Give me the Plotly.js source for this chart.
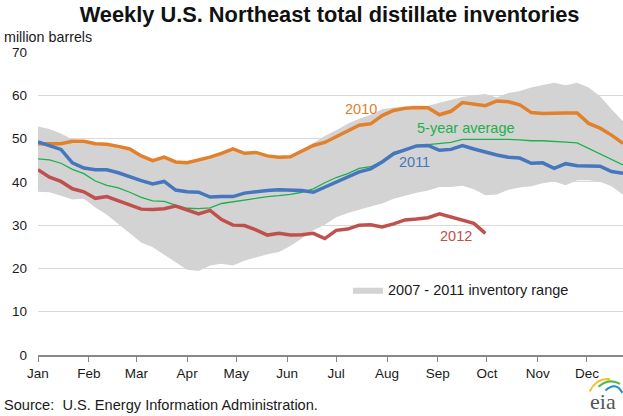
<!DOCTYPE html>
<html>
<head>
<meta charset="utf-8">
<script src="https://cdn.plot.ly/plotly-3.0.1.min.js"></script>
<style>html,body{margin:0;padding:0;background:#fff;}#chart{width:623px;height:416px;}</style>
</head>
<body>
<div id="chart"></div>
<script>
const weeks = ["2012-01-01","2012-01-08","2012-01-15","2012-01-22","2012-01-29","2012-02-05","2012-02-12","2012-02-19","2012-02-26",
"2012-03-04","2012-03-11","2012-03-18","2012-03-25","2012-04-01","2012-04-08","2012-04-15","2012-04-22","2012-04-29",
"2012-05-06","2012-05-13","2012-05-20","2012-05-27","2012-06-03","2012-06-10","2012-06-17","2012-06-24",
"2012-07-01","2012-07-08","2012-07-15","2012-07-22","2012-07-29","2012-08-05","2012-08-12","2012-08-19","2012-08-26",
"2012-09-02","2012-09-09","2012-09-16","2012-09-23","2012-09-30","2012-10-07","2012-10-14","2012-10-21","2012-10-28",
"2012-11-04","2012-11-11","2012-11-18","2012-11-25","2012-12-02","2012-12-09","2012-12-16","2012-12-23"];

const rangeLow = [37.7,37.6,36.8,35.9,36.1,34.1,32.4,30.2,28.0,26.0,24.9,23.1,21.3,19.7,19.4,20.7,21.1,20.7,21.8,22.6,23.3,23.8,25.2,26.9,28.8,30.1,
31.8,32.8,33.6,34.3,35.0,36.1,36.8,37.5,38.0,38.8,38.8,39.1,38.3,36.9,37.1,38.2,38.7,39.0,39.7,40.1,39.2,40.4,40.4,40.0,39.0,37.0];
const rangeHigh = [52.8,52.2,51.2,49.8,49.5,48.9,48.8,48.3,47.7,46.1,45.0,45.8,44.7,44.5,45.1,45.8,46.7,47.7,46.7,46.9,46.1,45.8,45.9,47.1,49.0,50.6,
51.9,53.4,54.6,55.5,56.8,57.2,57.3,57.4,57.6,58.3,59.0,59.6,60.0,60.3,59.5,60.5,61.0,61.8,62.4,62.9,62.3,62.9,61.8,59.8,56.8,54.0];
const y2010 = [48.8,48.8,48.8,49.4,49.4,48.8,48.7,48.2,47.6,46.0,44.9,45.7,44.6,44.4,45.0,45.7,46.6,47.6,46.6,46.8,46.0,45.7,45.8,47.0,48.4,49.1,
50.4,51.7,53.1,53.4,55.3,56.5,57.0,57.2,57.1,55.5,56.3,58.3,58.0,57.6,58.7,58.5,57.8,56.0,55.8,55.9,55.9,55.9,53.5,52.4,50.8,48.9];
const y2011 = [49.2,48.4,47.5,44.4,43.2,42.8,42.8,42.1,41.1,40.3,39.5,40.1,38.1,37.7,37.6,36.5,36.6,36.6,37.4,37.8,38.0,38.2,38.1,38.0,37.6,38.8,
39.8,41.2,42.3,43.0,44.6,46.5,47.4,48.3,48.4,47.3,47.5,48.4,47.6,46.8,46.2,45.7,45.5,44.3,44.4,43.1,44.2,43.7,43.6,43.6,42.4,42.0];
const y2012 = [42.8,41.1,40.1,38.4,37.7,36.2,36.6,35.6,34.5,33.7,33.6,33.8,34.4,33.5,32.6,33.4,31.3,30.0,29.9,28.9,27.7,28.1,27.7,27.8,28.1,26.9,
28.8,29.1,30.0,30.1,29.6,30.3,31.2,31.4,31.7,32.6,31.8,31.2,30.4,28.1];
const avg5 = [45.3,45.1,44.3,42.9,41.9,40.2,39.2,38.6,37.6,36.4,35.6,35.5,34.6,33.9,33.8,34.0,35.0,35.4,35.7,36.2,36.6,36.8,37.1,37.6,38.4,39.8,
41.0,41.9,43.1,43.5,44.8,46.8,47.5,48.2,48.6,48.8,49.1,49.8,49.8,49.9,49.8,49.8,49.7,49.5,49.5,49.4,49.2,49.0,47.7,46.4,45.1,43.9];

const C = {orange:'#E3802C', blue:'#4677BE', red:'#C0504D', green:'#1DB04B', band:'#D3D3D3', text:'#1a1a1a'};
const FONT = 'Liberation Sans, Arial, sans-serif';

const traces = [
  {x: weeks, y: rangeLow, type:'scatter', mode:'lines', line:{width:0, color:C.band}, showlegend:false, hoverinfo:'skip'},
  {x: weeks, y: rangeHigh, type:'scatter', mode:'lines', fill:'tonexty', fillcolor:C.band, line:{width:0, color:C.band},
   name:'2007 - 2011 inventory range', showlegend:true},
  {x: weeks, y: avg5, type:'scatter', mode:'lines', line:{width:1.3, color:C.green}, showlegend:false},
  {x: weeks, y: y2010, type:'scatter', mode:'lines', line:{width:3.5, color:C.orange}, showlegend:false},
  {x: weeks, y: y2011, type:'scatter', mode:'lines', line:{width:3.5, color:C.blue}, showlegend:false},
  {x: weeks.slice(0, y2012.length), y: y2012, type:'scatter', mode:'lines', line:{width:3.5, color:C.red}, showlegend:false}
];

const layout = {
  width:623, height:416,
  margin:{l:38, r:0, t:52, b:61},
  paper_bgcolor:'#fff', plot_bgcolor:'#fff',
  font:{family:FONT, size:13, color:C.text},
  title:{text:'<b>Weekly U.S. Northeast total distillate inventories</b>', font:{family:FONT, size:21.8, color:'#111'},
         x:0.529, xref:'container', xanchor:'center', y:0.966, yref:'container', yanchor:'middle'},
  xaxis:{type:'date', range:['2012-01-01','2012-12-23'], dtick:'M1', tick0:'2012-01-01', tickformat:'%b',
         ticks:'outside', ticklen:5, tickcolor:'#888', showline:true, linecolor:'#888', linewidth:1.5,
         showgrid:false, zeroline:false, tickfont:{size:13.5, color:C.text}, fixedrange:true},
  yaxis:{range:[0,70], dtick:10, tick0:0, showgrid:true, gridcolor:'#D9D9D9', gridwidth:1, zeroline:false,
         showline:false, ticks:'', ticklabelstandoff:10, tickfont:{size:13.5, color:C.text}, fixedrange:true},
  showlegend:true,
  legend:{x:0.53, y:0.215, xanchor:'left', yanchor:'middle', bgcolor:'rgba(0,0,0,0)', font:{size:14.5, color:C.text}, itemwidth:30},
  annotations:[
    {xref:'paper', yref:'paper', x:-0.062, y:1.0495, xanchor:'left', yanchor:'middle', text:'million barrels', showarrow:false, font:{size:14.3, color:C.text}},
    {xref:'paper', yref:'paper', x:-0.062, y:-0.165, xanchor:'left', yanchor:'middle', text:'Source:  U.S. Energy Information Administration.', showarrow:false, font:{size:14.6, color:C.text}},
    {x:'2012-07-16', y:56.9, text:'2010', showarrow:false, font:{size:14.5, color:C.orange}},
    {x:'2012-09-18', y:52.5, text:'5-year average', showarrow:false, font:{size:14.5, color:C.green}},
    {x:'2012-08-18', y:44.5, text:'2011', showarrow:false, font:{size:14.5, color:C.blue}},
    {x:'2012-09-12', y:27.4, text:'2012', showarrow:false, font:{size:14.5, color:C.red}},
    {xref:'paper', yref:'paper', x:0.966, y:-0.155, xanchor:'center', yanchor:'middle', text:'eia', showarrow:false,
     font:{family:'Liberation Serif, DejaVu Serif, serif', size:22, color:'#555'}}
  ],
  shapes:[
    {type:'path', xref:'paper', yref:'paper', path:'M 0.943,-0.12 Q 0.955,-0.075 0.978,-0.08', line:{color:'#F2C12E', width:2}},
    {type:'path', xref:'paper', yref:'paper', path:'M 0.958,-0.105 Q 0.975,-0.075 0.995,-0.095', line:{color:'#55B848', width:2}},
    {type:'path', xref:'paper', yref:'paper', path:'M 0.97,-0.117 Q 0.988,-0.085 0.999,-0.125', line:{color:'#1F8CCB', width:2}}
  ]
};

Plotly.newPlot('chart', traces, layout, {displayModeBar:false, staticPlot:true});
</script>
</body>
</html>
